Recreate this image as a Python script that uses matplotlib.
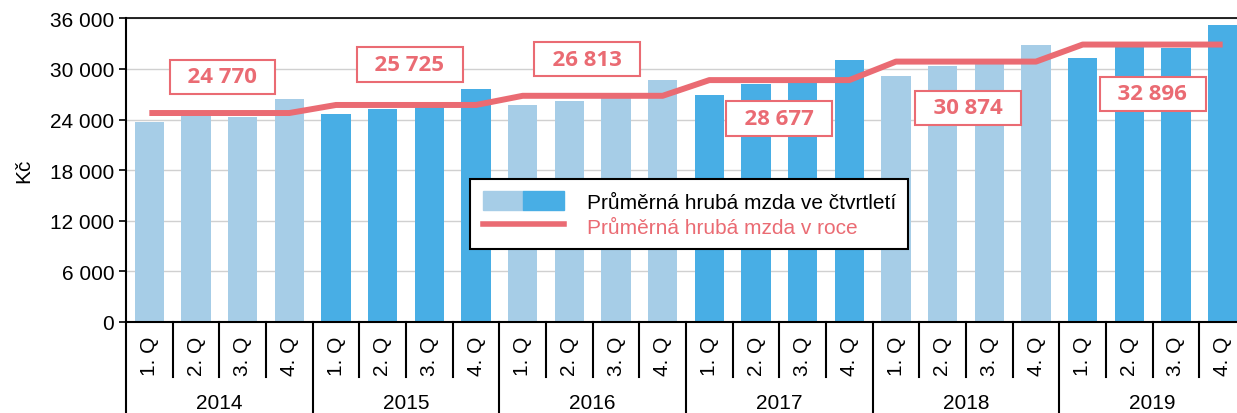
import numpy as np
import matplotlib
matplotlib.use('Agg')
import matplotlib.pyplot as plt
from matplotlib.patches import Patch
from matplotlib.lines import Line2D
from matplotlib.legend_handler import HandlerTuple

# data
years = ['2014', '2015', '2016', '2017', '2018', '2019']
quarters = ['1. Q', '2. Q', '3. Q', '4. Q']
quarterly_wage = [23740, 24380, 24300, 26430,
                  24650, 25250, 25500, 27620,
                  25720, 26230, 26850, 28690,
                  26910, 28210, 28450, 31060,
                  29170, 30350, 30550, 32880,
                  31300, 32550, 32490, 35220]
annual_wage = [24770, 25725, 26813, 28677, 30874, 32896]
annual_labels = ['24 770', '25 725', '26 813', '28 677', '30 874', '32 896']

# label box positions (x in bar slots, y in Kč)
label_pos = [(1.57, 29050), (5.58, 30530), (9.38, 31180),
             (13.49, 24100), (17.54, 25370), (21.5, 27030)]

light = '#a6cde7'
dark = '#48aee5'
red = '#ea6b73'

plt.rcParams['font.family'] = ['Liberation Sans', 'DejaVu Sans']

fig = plt.figure(figsize=(12.37, 4.14), dpi=100)
ax = fig.add_axes([126/1237, 1 - 322.7/414, 1120/1237, 303.3/414])

n = len(quarterly_wage)
x = np.arange(n)
colors = [light if (i // 4) % 2 == 0 else dark for i in range(n)]
ax.bar(x, quarterly_wage, width=0.63, color=colors, zorder=2)

# annual average line: flat over each year's quarters
line_y = np.repeat(annual_wage, 4)
ax.plot(x, line_y, color=red, lw=4.3, zorder=3, solid_capstyle='butt')

for (lx, ly), txt in zip(label_pos, annual_labels):
    ax.text(lx, ly, '  ' + txt + '  ', ha='center', va='center', fontsize=16, fontweight='bold',
            family='Open Sans', color=red, zorder=5,
            bbox=dict(boxstyle='square,pad=0.3', fc='white', ec=red, lw=1.5))

ax.set_xlim(-0.5, n - 0.5)
ax.set_ylim(0, 36000)
ax.set_yticks(np.arange(0, 36001, 6000))
ax.set_yticklabels([f'{v:,}'.replace(',', ' ') for v in range(0, 36001, 6000)])
ax.tick_params(axis='y', labelsize=15, length=5, width=1.2, direction='out')
ax.grid(axis='y', color='#d0d0d0', lw=1, zorder=0)
ax.set_ylabel('Kč', fontsize=15, labelpad=12)

ax.set_xticks(x)
ax.set_xticklabels(quarters * len(years), rotation=90, fontsize=15)
ax.tick_params(axis='x', length=0, pad=10)

for s in ['left', 'bottom', 'top']:
    ax.spines[s].set_color('black')
    ax.spines[s].set_linewidth(1.5)
ax.spines['top'].set_linewidth(1.2)
ax.spines['right'].set_visible(False)

# category dividers under the axis
trans = ax.get_xaxis_transform()
for i in range(n + 1):
    xd = i - 0.5
    if i % 4 == 0:
        ax.plot([xd, xd], [0, -0.31], color='black', lw=1.5, transform=trans, clip_on=False)
    else:
        ax.plot([xd, xd], [0, -0.181], color='black', lw=1.5, transform=trans, clip_on=False)
for k, yr in enumerate(years):
    ax.text(4 * k + 1.5, -0.267, yr, transform=trans, ha='center', va='center', fontsize=15)

handles = [(Patch(color=light), Patch(color=dark)), Line2D([], [], color=red, lw=4)]
leg = fig.legend(handles, ['Průměrná hrubá mzda ve čtvrtletí', 'Průměrná hrubá mzda v roce'],
                 handler_map={tuple: HandlerTuple(ndivide=None, pad=0)},
                 loc='upper left', bbox_to_anchor=(470/1237, 1 - 180/414),
                 bbox_transform=fig.transFigure, borderaxespad=0, fontsize=15,
                 handlelength=3.9, handleheight=1.0, handletextpad=1.1, labelspacing=0.2,
                 borderpad=0.6, fancybox=False, framealpha=1, edgecolor='black')
leg.get_frame().set_linewidth(1.5)
leg.get_texts()[1].set_color(red)
leg.set_zorder(10)

plt.savefig('out.png', dpi=100)
